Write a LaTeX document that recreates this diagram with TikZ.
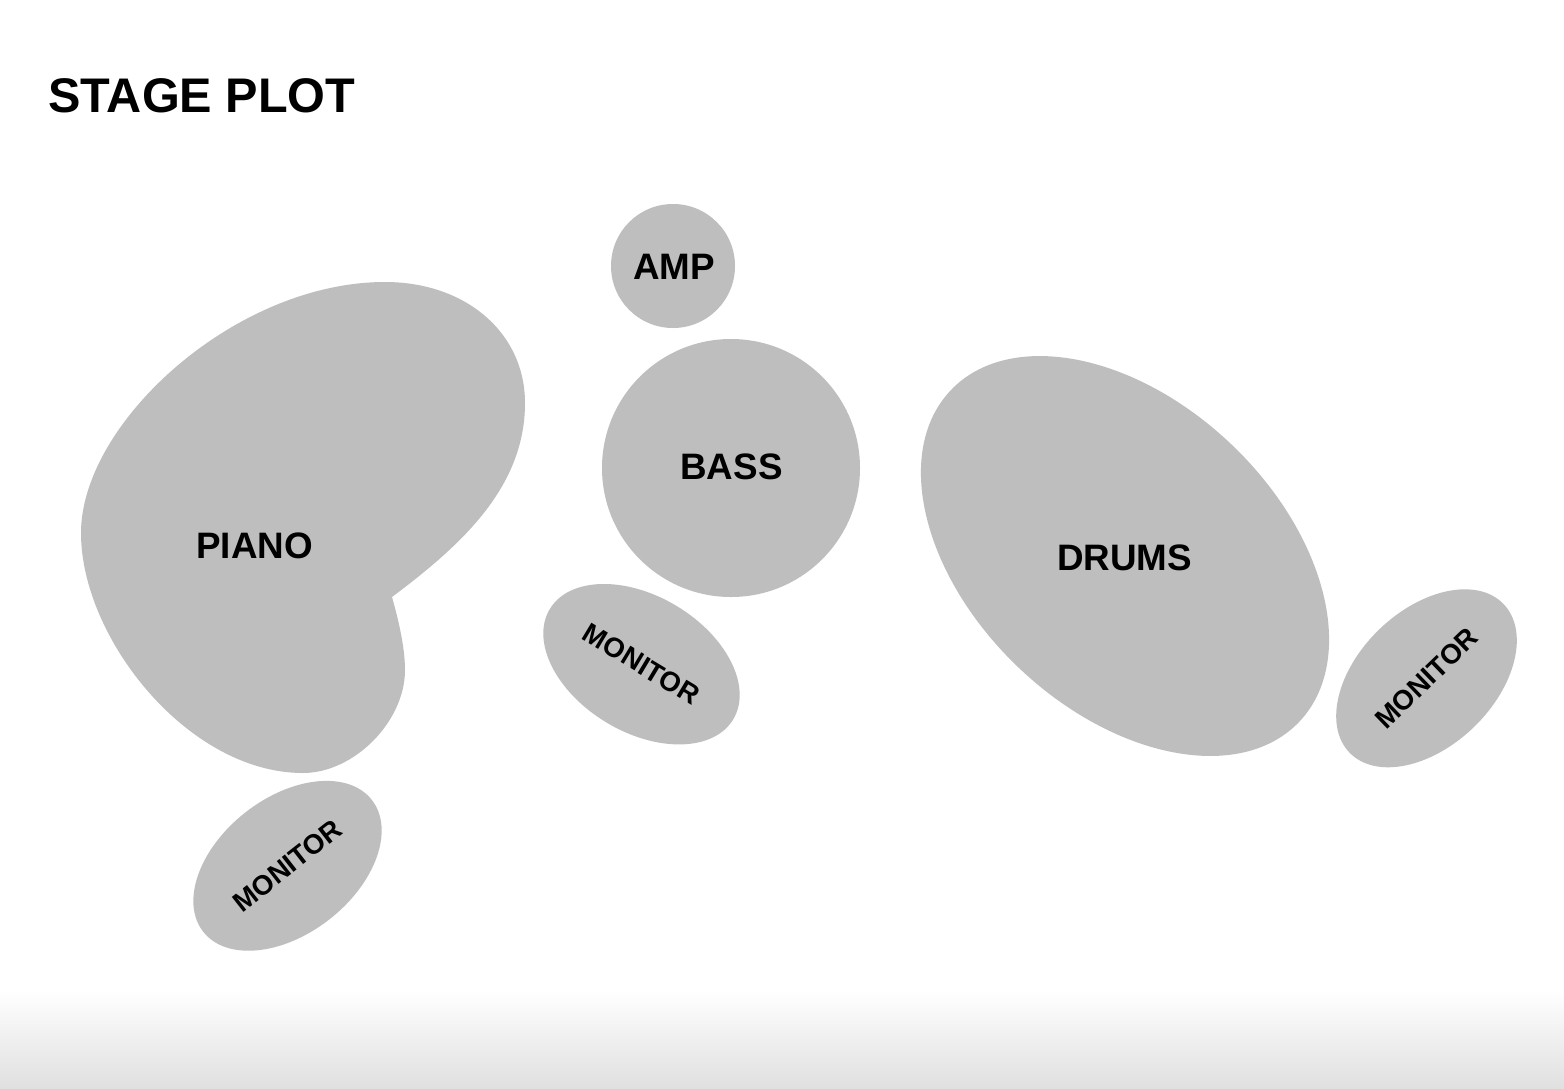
\documentclass[tikz,border=0pt]{standalone}
\usepackage{fontspec}
\setmainfont{Liberation Sans}
\usetikzlibrary{shapes.geometric}
\definecolor{stagegray}{RGB}{190,190,190}
\definecolor{shadegray}{RGB}{224,224,224}
\definecolor{shademid}{RGB}{249,249,249}
\begin{document}
\begin{tikzpicture}[x=0.5pt,y=-0.5pt,
  blob/.style={fill=stagegray, draw=none, inner sep=0pt, outer sep=0pt},
  lbl/.style={font=\bfseries\fontsize{18.4}{22}\selectfont, inner sep=0pt, text=black},
  monitor/.style={ellipse, blob, minimum width=107pt, minimum height=68pt,
    font=\bfseries\fontsize{13.8}{16}\selectfont}]
\fill[white] (0,0) rectangle (1564,1088);
\useasboundingbox (0,0) rectangle (1564,1088);
\shade[top color=white, middle color=shademid, bottom color=shadegray, draw=none]
  (0,990) rectangle (1564,1088);
% piano
\fill[stagegray] (392,597)
  .. controls (460,546) and (525,488) .. (525,403)
  .. controls (525,333) and (466,282) .. (385,282)
  .. controls (235,282) and (81,423) .. (81,533)
  .. controls (81,638) and (188,773) .. (303,773)
  .. controls (354,773) and (405,721.5) .. (405,670)
  .. controls (405,645) and (397,615) .. (392,597) -- cycle;
% amp, bass, drums
\node[circle, blob, minimum size=62pt] (amp) at (673,266) {};
\node[circle, blob, minimum size=129pt] (bass) at (731,468) {};
\node[ellipse, blob, minimum width=240.5pt, minimum height=154.2pt, rotate=-43.6] (drums) at (1125,556) {};
% monitors
\node[monitor, rotate=38] (mon1) at (287.5,865.8) {MONITOR};
\node[monitor, rotate=-31] (mon2) at (641.5,664.2) {MONITOR};
\node[monitor, rotate=44] (mon3) at (1426.5,678.3) {MONITOR};
% labels
\node[lbl] (pianolbl) at (254.5,545.5) {PIANO};
\node[lbl] (amplbl) at (674,267) {AMP};
\node[lbl] (basslbl) at (731.5,467) {BASS};
\node[lbl] (drumslbl) at (1124.5,557.5) {DRUMS};
\node[font=\bfseries\fontsize{24.3}{29}\selectfont, anchor=base west, inner sep=0pt] (title) at (48,112) {STAGE PLOT};
\end{tikzpicture}
\end{document}
